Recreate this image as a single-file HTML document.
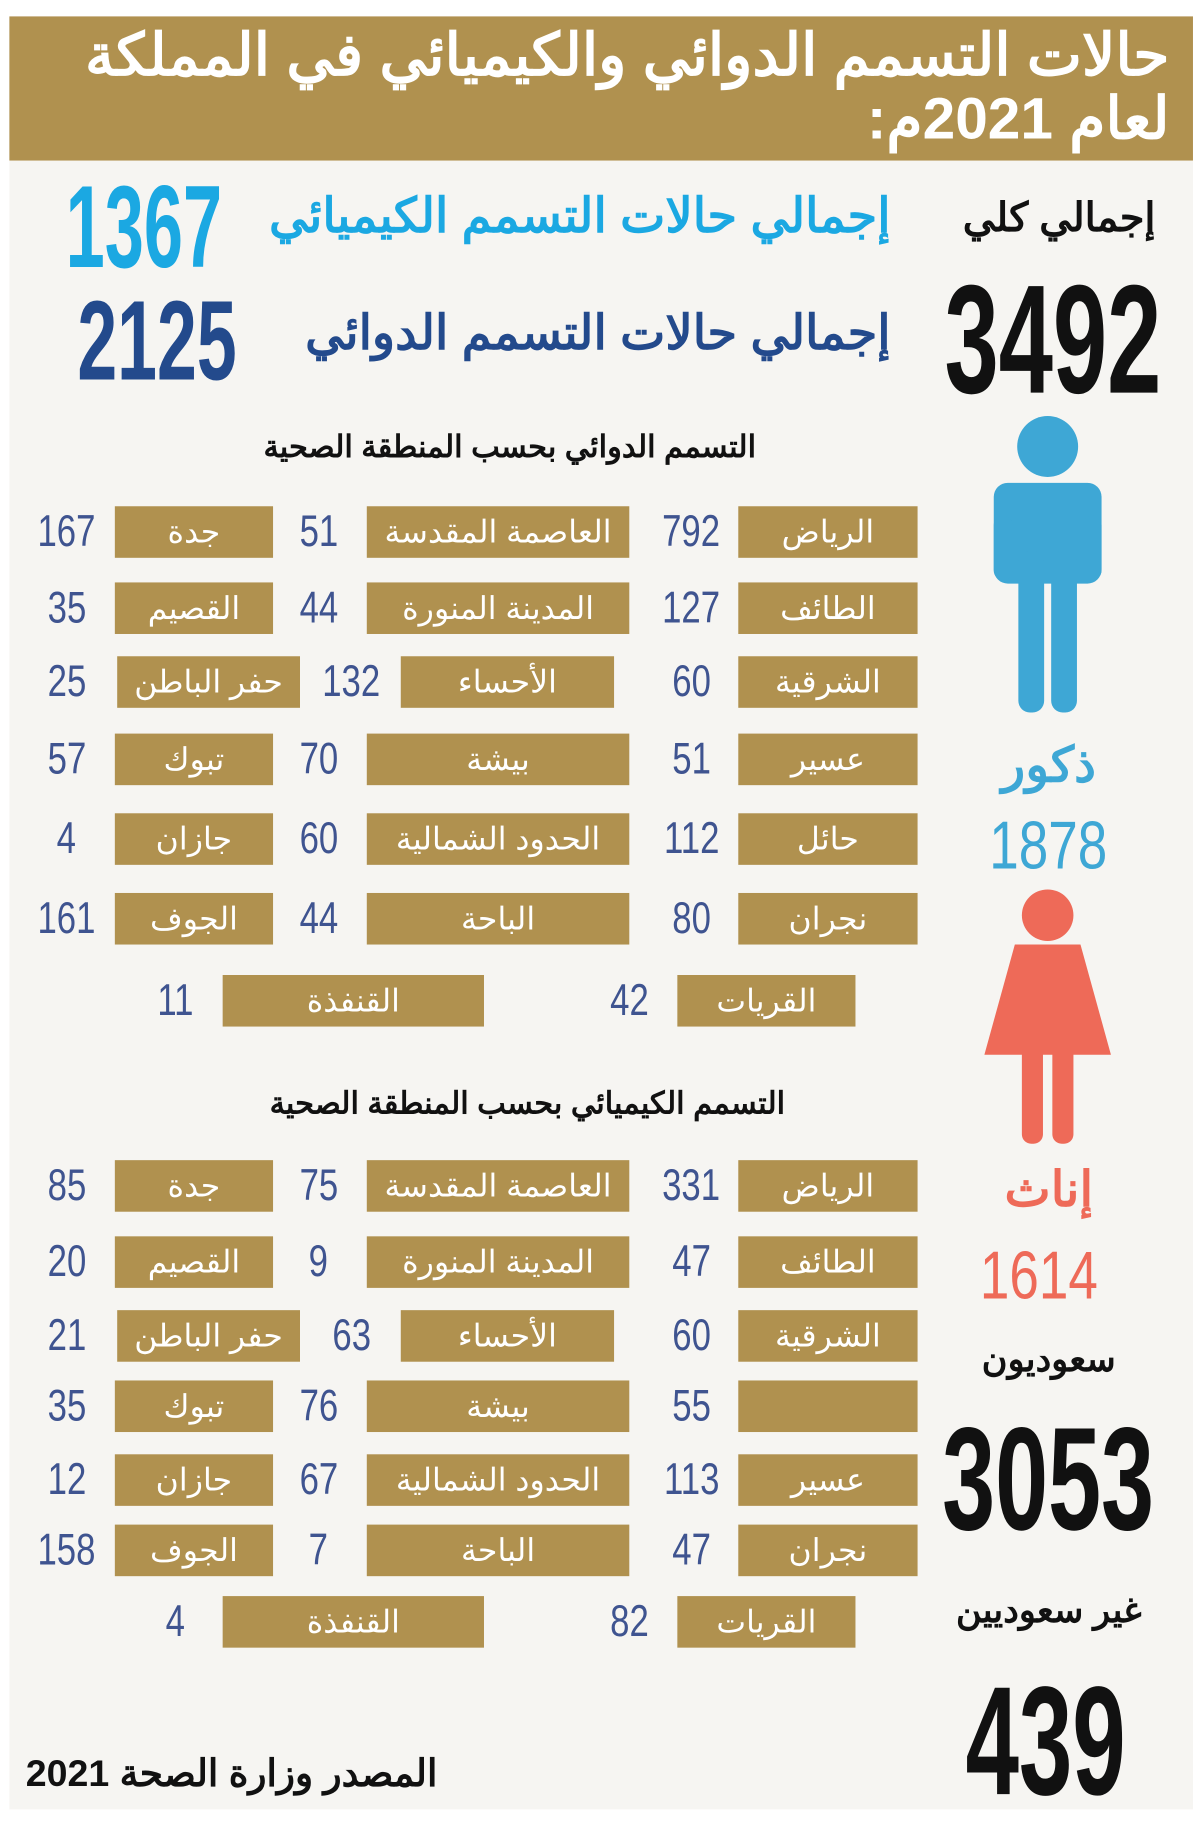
<!DOCTYPE html>
<html><head><meta charset="utf-8"><style>
*{margin:0;padding:0;box-sizing:border-box}
html,body{width:1200px;height:1843px;background:#fff;overflow:hidden}
#w{position:absolute;left:0;top:0;width:1024px;height:1573px;transform:scale(1.171875);transform-origin:0 0;font-family:"Liberation Sans","Noto Sans CJK SC",sans-serif}
.a{position:absolute;white-space:nowrap}
.b{position:absolute;background:#b0914f;color:#fff;font-size:27px;height:44px;line-height:44px;text-align:center;direction:rtl}
.n{position:absolute;color:#3f5490;font-size:38px;height:44px;line-height:44px;text-align:center;width:70px}
.n span,.c span{display:inline-block;transform:scaleX(0.78)}
.big{font-weight:bold;transform-origin:0 0;line-height:1}
.ar{direction:rtl;font-weight:bold}
</style></head><body><div id="w">
<div class="a" style="left:8px;top:14px;width:1010px;height:1530px;background:#f6f5f2"></div>
<div class="a" style="left:8px;top:14px;width:1010px;height:123px;background:#b0914f"></div>
<div class="a ar" style="right:26px;top:20px;color:#fff;font-size:50px;line-height:54px;text-align:right">حالات التسمم الدوائي والكيميائي في المملكة<br>لعام 2021م:</div>

<div class="a ar" style="right:38px;top:166px;font-size:34px;color:#111">إجمالي كلي</div>
<div class="a big" style="left:806px;top:224px;font-size:132px;color:#111;transform:scaleX(0.63)">3492</div>
<div class="a big" style="left:56px;top:144px;font-size:100px;color:#1ba8e2;transform:scaleX(0.6)">1367</div>
<div class="a ar" style="right:264px;top:160px;font-size:41px;color:#1ba8e2">إجمالي حالات التسمم الكيميائي</div>
<div class="a big" style="left:66px;top:242px;font-size:97px;color:#234a8c;transform:scaleX(0.63)">2125</div>
<div class="a ar" style="right:264px;top:260px;font-size:41px;color:#234a8c">إجمالي حالات التسمم الدوائي</div>

<div class="a ar" style="left:185px;width:500px;top:366px;font-size:26px;text-align:center;color:#111">التسمم الدوائي بحسب المنطقة الصحية</div>
<div class="a ar" style="left:185px;width:530px;top:926px;font-size:26px;text-align:center;color:#111">التسمم الكيميائي بحسب المنطقة الصحية</div>

<svg class="a" style="left:830px;top:350px" width="130" height="640" viewBox="830 350 130 640">
<g fill="#3ea7d5"><circle cx="894" cy="381" r="26"/><rect x="848" y="412" width="92" height="86" rx="12"/><rect x="848" y="440" width="16" height="55" rx="8"/><rect x="924" y="440" width="16" height="55" rx="8"/><rect x="869" y="470" width="22" height="138" rx="10"/><rect x="897" y="470" width="22" height="138" rx="10"/></g>
<g fill="#ee6a58"><circle cx="894" cy="781" r="22"/><polygon points="866,806 922,806 948,900 840,900"/><rect x="872" y="880" width="18" height="96" rx="8"/><rect x="898" y="880" width="18" height="96" rx="8"/></g>
</svg>
<div class="a ar" style="left:820px;width:150px;text-align:center;top:628px;font-size:42px;color:#3ea7d5">ذكور</div>
<div class="a c" style="left:820px;width:150px;text-align:center;top:688px;font-size:58px;color:#3ea7d5"><span>1878</span></div>
<div class="a ar" style="left:820px;width:150px;text-align:center;top:990px;font-size:42px;color:#ee6a58">إناث</div>
<div class="a c" style="left:812px;width:150px;text-align:center;top:1055px;font-size:58px;color:#ee6a58"><span>1614</span></div>
<div class="a ar" style="left:800px;width:190px;text-align:center;top:1143px;font-size:30px;color:#111">سعوديون</div>
<div class="a big" style="left:804px;top:1200px;font-size:125px;color:#111;transform:scaleX(0.65)">3053</div>
<div class="a ar" style="left:790px;width:210px;text-align:center;top:1357px;font-size:30px;color:#111">غير سعوديين</div>
<div class="a big" style="left:824px;top:1420px;font-size:132px;color:#111;transform:scaleX(0.62)">439</div>
<div class="a ar" style="left:22px;top:1494px;font-size:32px;color:#111">المصدر وزارة الصحة 2021</div>

<!-- section 1 -->
<div class="b" style="left:630px;top:432px;width:153px">الرياض</div><div class="n" style="left:555px;top:432px"><span>792</span></div>
<div class="b" style="left:313px;top:432px;width:224px">العاصمة المقدسة</div><div class="n" style="left:237px;top:432px"><span>51</span></div>
<div class="b" style="left:98px;top:432px;width:135px">جدة</div><div class="n" style="left:22px;top:432px"><span>167</span></div>
<div class="b" style="left:630px;top:497px;width:153px">الطائف</div><div class="n" style="left:555px;top:497px"><span>127</span></div>
<div class="b" style="left:313px;top:497px;width:224px">المدينة المنورة</div><div class="n" style="left:237px;top:497px"><span>44</span></div>
<div class="b" style="left:98px;top:497px;width:135px">القصيم</div><div class="n" style="left:22px;top:497px"><span>35</span></div>
<div class="b" style="left:630px;top:560px;width:153px">الشرقية</div><div class="n" style="left:555px;top:560px"><span>60</span></div>
<div class="b" style="left:342px;top:560px;width:182px">الأحساء</div><div class="n" style="left:265px;top:560px"><span>132</span></div>
<div class="b" style="left:100px;top:560px;width:156px">حفر الباطن</div><div class="n" style="left:22px;top:560px"><span>25</span></div>
<div class="b" style="left:630px;top:626px;width:153px">عسير</div><div class="n" style="left:555px;top:626px"><span>51</span></div>
<div class="b" style="left:313px;top:626px;width:224px">بيشة</div><div class="n" style="left:237px;top:626px"><span>70</span></div>
<div class="b" style="left:98px;top:626px;width:135px">تبوك</div><div class="n" style="left:22px;top:626px"><span>57</span></div>
<div class="b" style="left:630px;top:694px;width:153px">حائل</div><div class="n" style="left:555px;top:694px"><span>112</span></div>
<div class="b" style="left:313px;top:694px;width:224px">الحدود الشمالية</div><div class="n" style="left:237px;top:694px"><span>60</span></div>
<div class="b" style="left:98px;top:694px;width:135px">جازان</div><div class="n" style="left:22px;top:694px"><span>4</span></div>
<div class="b" style="left:630px;top:762px;width:153px">نجران</div><div class="n" style="left:555px;top:762px"><span>80</span></div>
<div class="b" style="left:313px;top:762px;width:224px">الباحة</div><div class="n" style="left:237px;top:762px"><span>44</span></div>
<div class="b" style="left:98px;top:762px;width:135px">الجوف</div><div class="n" style="left:22px;top:762px"><span>161</span></div>
<div class="b" style="left:578px;top:832px;width:152px">القريات</div><div class="n" style="left:502px;top:832px"><span>42</span></div>
<div class="b" style="left:190px;top:832px;width:223px">القنفذة</div><div class="n" style="left:115px;top:832px"><span>11</span></div>

<!-- section 2 -->
<div class="b" style="left:630px;top:990px;width:153px">الرياض</div><div class="n" style="left:555px;top:990px"><span>331</span></div>
<div class="b" style="left:313px;top:990px;width:224px">العاصمة المقدسة</div><div class="n" style="left:237px;top:990px"><span>75</span></div>
<div class="b" style="left:98px;top:990px;width:135px">جدة</div><div class="n" style="left:22px;top:990px"><span>85</span></div>
<div class="b" style="left:630px;top:1055px;width:153px">الطائف</div><div class="n" style="left:555px;top:1055px"><span>47</span></div>
<div class="b" style="left:313px;top:1055px;width:224px">المدينة المنورة</div><div class="n" style="left:237px;top:1055px"><span>9</span></div>
<div class="b" style="left:98px;top:1055px;width:135px">القصيم</div><div class="n" style="left:22px;top:1055px"><span>20</span></div>
<div class="b" style="left:630px;top:1118px;width:153px">الشرقية</div><div class="n" style="left:555px;top:1118px"><span>60</span></div>
<div class="b" style="left:342px;top:1118px;width:182px">الأحساء</div><div class="n" style="left:265px;top:1118px"><span>63</span></div>
<div class="b" style="left:100px;top:1118px;width:156px">حفر الباطن</div><div class="n" style="left:22px;top:1118px"><span>21</span></div>
<div class="b" style="left:630px;top:1178px;width:153px"></div><div class="n" style="left:555px;top:1178px"><span>55</span></div>
<div class="b" style="left:313px;top:1178px;width:224px">بيشة</div><div class="n" style="left:237px;top:1178px"><span>76</span></div>
<div class="b" style="left:98px;top:1178px;width:135px">تبوك</div><div class="n" style="left:22px;top:1178px"><span>35</span></div>
<div class="b" style="left:630px;top:1241px;width:153px">عسير</div><div class="n" style="left:555px;top:1241px"><span>113</span></div>
<div class="b" style="left:313px;top:1241px;width:224px">الحدود الشمالية</div><div class="n" style="left:237px;top:1241px"><span>67</span></div>
<div class="b" style="left:98px;top:1241px;width:135px">جازان</div><div class="n" style="left:22px;top:1241px"><span>12</span></div>
<div class="b" style="left:630px;top:1301px;width:153px">نجران</div><div class="n" style="left:555px;top:1301px"><span>47</span></div>
<div class="b" style="left:313px;top:1301px;width:224px">الباحة</div><div class="n" style="left:237px;top:1301px"><span>7</span></div>
<div class="b" style="left:98px;top:1301px;width:135px">الجوف</div><div class="n" style="left:22px;top:1301px"><span>158</span></div>
<div class="b" style="left:578px;top:1362px;width:152px">القريات</div><div class="n" style="left:502px;top:1362px"><span>82</span></div>
<div class="b" style="left:190px;top:1362px;width:223px">القنفذة</div><div class="n" style="left:115px;top:1362px"><span>4</span></div>
</div></body></html>
